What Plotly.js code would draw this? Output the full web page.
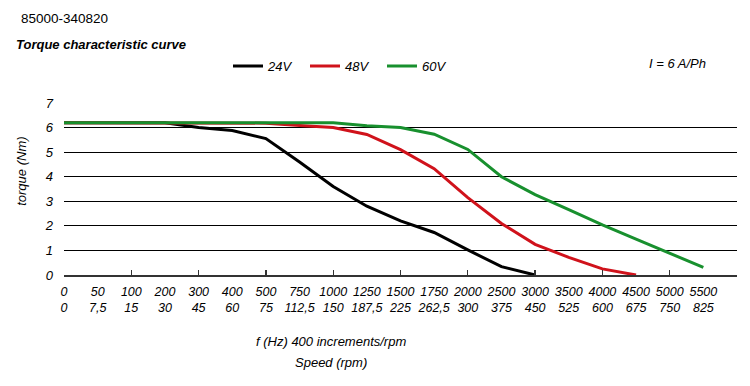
<!DOCTYPE html>
<html><head><meta charset="utf-8">
<script src="https://cdn.plot.ly/plotly-3.0.1.min.js"></script>
<style>html,body{margin:0;padding:0;background:#fff}#chart{width:750px;height:386px}</style>
</head><body><div id="chart"></div>
<script>
const speedHz = ['0','50','100','200','300','400','500','750','1000','1250','1500','1750','2000','2500','3000','3500','4000','4500','5000','5500'];
const speedRpm = ['0','7,5','15','30','45','60','75','112,5','150','187,5','225','262,5','300','375','450','525','600','675','750','825'];
const torque24 = [6.2,6.2,6.2,6.2,6.0,5.88,5.55,4.6,3.6,2.8,2.2,1.73,1.02,0.34,0];
const torque48 = [6.2,6.2,6.2,6.2,6.2,6.2,6.18,6.08,6.0,5.72,5.1,4.33,3.15,2.1,1.25,0.72,0.25,0];
const torque60 = [6.2,6.2,6.2,6.2,6.2,6.2,6.2,6.2,6.2,6.07,6.0,5.73,5.11,4.0,3.27,2.66,2.04,1.46,0.89,0.31];
const seriesNames = ['24V','48V','60V'];
const yTicks = [0,1,2,3,4,5,6,7];
const majorTickIdx = [0,2,4,6,8,10,12,14,16,18,20];

const FONT = '"Liberation Sans", Arial, sans-serif';
const L = 64, R = 737, T = 103, B = 275.5, W = 750, H = 386;
const px = v => (v - L) / (R - L);
const py = v => (B - v) / (B - T);

const tickText = speedHz.map((h, i) => h + '<br>' + speedRpm[i]);

const mk = (y, name, color) => ({
  type: 'scatter', mode: 'lines', name: name,
  x: speedHz.slice(0, y.length), y: y,
  line: {color: color, width: 3}, xaxis: 'x', yaxis: 'y'
});

const data = [
  mk(torque24, seriesNames[0], '#000000'),
  mk(torque48, seriesNames[1], '#d0121b'),
  mk(torque60, seriesNames[2], '#18902e'),
  {type: 'scatter', mode: 'lines', x: [0], y: [0], xaxis: 'x2', yaxis: 'y', showlegend: false, hoverinfo: 'skip', line: {color: 'rgba(0,0,0,0)'}}
];

const layout = {
  width: W, height: H,
  margin: {l: L, r: W - R, t: T, b: H - B, pad: 0},
  paper_bgcolor: '#fff', plot_bgcolor: '#fff',
  font: {family: FONT, size: 12, color: '#000', style: 'italic'},
  showlegend: true,
  legend: {
    orientation: 'h', x: px(228), y: py(51), xanchor: 'left', yanchor: 'top',
    font: {family: FONT, size: 13, style: 'italic', color: '#000'},
    entrywidth: 32, entrywidthmode: 'pixels', itemwidth: 30, bgcolor: 'rgba(0,0,0,0)'
  },
  xaxis: {
    type: 'category', categoryorder: 'array', categoryarray: speedHz,
    range: [0, 20], tickvals: speedHz, ticktext: tickText,
    ticks: '', showgrid: false, zeroline: false,
    showline: true, linecolor: '#333', linewidth: 1.6,
    tickfont: {family: FONT, size: 12.5, style: 'italic', color: '#000'},
    ticklabelstandoff: 4, fixedrange: true
  },
  xaxis2: {
    overlaying: 'x', type: 'linear', range: [0, 20], tickvals: majorTickIdx,
    showticklabels: false, ticks: 'inside', ticklen: 5, tickwidth: 1.3, tickcolor: '#333',
    showgrid: false, zeroline: false, showline: false, anchor: 'y', side: 'bottom'
  },
  yaxis: {
    range: [0, 7], tickvals: yTicks, ticks: '', showline: false, zeroline: false,
    showgrid: true, gridcolor: '#000', gridwidth: 1.2,
    tickfont: {family: FONT, size: 13, style: 'italic', color: '#000'},
    ticklabelstandoff: 10
  },
  annotations: [
    {text: '85000-340820', xref: 'paper', yref: 'paper', x: px(19), y: py(18), xanchor: 'left', yanchor: 'middle', showarrow: false, font: {family: FONT, size: 13.5, style: 'normal', color: '#000'}},
    {text: '<b>Torque characteristic curve</b>', xref: 'paper', yref: 'paper', x: px(14), y: py(44), xanchor: 'left', yanchor: 'middle', showarrow: false, font: {family: FONT, size: 13, style: 'italic', color: '#000'}},
    {text: 'I = 6 A/Ph', xref: 'paper', yref: 'paper', x: px(677), y: py(63), xanchor: 'center', yanchor: 'middle', showarrow: false, font: {family: FONT, size: 13, style: 'italic', color: '#000'}},
    {text: 'torque (Nm)', textangle: -90, xref: 'paper', yref: 'paper', x: px(22), y: py(172), xanchor: 'center', yanchor: 'middle', showarrow: false, font: {family: FONT, size: 13, style: 'italic', color: '#000'}},
    {text: 'f (Hz) 400 increments/rpm', xref: 'paper', yref: 'paper', x: px(331), y: py(342), xanchor: 'center', yanchor: 'middle', showarrow: false, font: {family: FONT, size: 13, style: 'italic', color: '#000'}},
    {text: 'Speed (rpm)', xref: 'paper', yref: 'paper', x: px(331), y: py(363), xanchor: 'center', yanchor: 'middle', showarrow: false, font: {family: FONT, size: 13, style: 'italic', color: '#000'}}
  ]
};

Plotly.newPlot('chart', data, layout, {staticPlot: true, displayModeBar: false});
</script>
</body></html>
